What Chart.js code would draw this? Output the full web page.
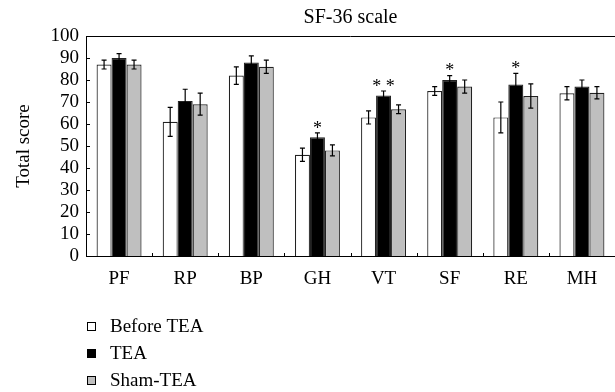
<!DOCTYPE html>
<html>
<head>
<meta charset="utf-8">
<script src="https://cdn.jsdelivr.net/npm/chart.js@4/dist/chart.umd.min.js"></script>
<style>
  html, body { margin: 0; padding: 0; background: #fff; }
  #wrap { width: 615px; height: 392px; position: relative; }
</style>
</head>
<body>
<div id="wrap"><canvas id="chart"></canvas></div>
<script>
const categories = ['PF', 'RP', 'BP', 'GH', 'VT', 'SF', 'RE', 'MH'];
const beforeTea = [87, 61, 82, 46, 63, 75, 63, 74];
const beforeErr = [2, 6.6, 4, 3, 3, 2, 7, 3];
const tea = [90, 70.5, 88, 54, 73, 80, 78, 77];
const teaErr = [2, 5.3, 3, 2, 2, 2, 5, 3];
const shamTea = [87, 69, 86, 48, 66.7, 77, 72.7, 74.2];
const shamErr = [2, 5, 3, 2.5, 2, 3, 5.5, 2.8];
const teaStars = ['', '', '', '*', '* *', '*', '*', ''];
const yTicks = [0, 10, 20, 30, 40, 50, 60, 70, 80, 90, 100];

const serif = '"Liberation Serif", "Times New Roman", serif';

// error bars, stars, inward ticks, top border, title and legend
const extras = {
    id: 'extras',
    afterDatasetsDraw(chart) {
        const ctx = chart.ctx;
        const y = chart.scales.y;
        const area = chart.chartArea;
        ctx.save();
        ctx.strokeStyle = '#000';
        ctx.fillStyle = '#000';
        ctx.lineWidth = 1.2;

        chart.data.datasets.forEach((ds, i) => {
            const meta = chart.getDatasetMeta(i);
            meta.data.forEach((bar, j) => {
                const v = ds.data[j];
                const e = ds.errors[j];
                const top = y.getPixelForValue(v + e);
                const bot = y.getPixelForValue(v - e);
                ctx.beginPath();
                ctx.moveTo(bar.x, top);
                ctx.lineTo(bar.x, bot);
                ctx.moveTo(bar.x - 2.5, top);
                ctx.lineTo(bar.x + 2.5, top);
                ctx.moveTo(bar.x - 2.5, bot);
                ctx.lineTo(bar.x + 2.5, bot);
                ctx.stroke();
                if (ds.stars && ds.stars[j]) {
                    ctx.font = '18px ' + serif;
                    ctx.textAlign = 'center';
                    ctx.textBaseline = 'middle';
                    ctx.fillText(ds.stars[j], bar.x, top - 4);
                }
            });
        });

        // top border
        ctx.lineWidth = 1;
        ctx.beginPath();
        ctx.moveTo(area.left, area.top + 0.5);
        ctx.lineTo(area.right, area.top + 0.5);
        // inward y ticks
        yTicks.forEach(t => {
            const py = Math.round(y.getPixelForValue(t)) + 0.5;
            ctx.moveTo(area.left, py);
            ctx.lineTo(area.left + 4, py);
        });
        // inward x ticks between categories
        const x = chart.scales.x;
        for (let k = 1; k < categories.length; k++) {
            const px = Math.round((x.getPixelForValue(k - 1) + x.getPixelForValue(k)) / 2) + 0.5;
            ctx.moveTo(px, area.bottom);
            ctx.lineTo(px, area.bottom - 3);
        }
        ctx.stroke();

        // title centred over the plot
        ctx.font = '20px ' + serif;
        ctx.textAlign = 'center';
        ctx.textBaseline = 'middle';
        ctx.fillText('SF-36 scale', (area.left + area.right) / 2, 18);

        // vertical legend
        ctx.font = '19px ' + serif;
        ctx.textAlign = 'left';
        chart.data.datasets.forEach((ds, i) => {
            const cy = 327 + i * 27;
            ctx.fillStyle = ds.backgroundColor;
            ctx.fillRect(87.5, cy - 4.5, 8, 8);
            ctx.strokeStyle = '#000';
            ctx.strokeRect(87.5, cy - 4.5, 8, 8);
            ctx.fillStyle = '#000';
            ctx.fillText(ds.label, 110, cy);
        });
        ctx.restore();
    }
};

new Chart(document.getElementById('chart'), {
    type: 'bar',
    data: {
        labels: categories,
        datasets: [
            { label: 'Before TEA', data: beforeTea, errors: beforeErr, backgroundColor: '#ffffff' },
            { label: 'TEA', data: tea, errors: teaErr, stars: teaStars, backgroundColor: '#000000' },
            { label: 'Sham-TEA', data: shamTea, errors: shamErr, backgroundColor: '#bfbfbf' }
        ].map(d => Object.assign(d, {
            borderColor: '#222',
            borderWidth: 1.2,
            categoryPercentage: 0.68,
            barPercentage: 1.0
        }))
    },
    options: {
        responsive: true,
        maintainAspectRatio: false,
        animation: false,
        layout: { padding: { top: 36, right: 0, bottom: 106, left: 0 } },
        plugins: {
            legend: { display: false },
            title: { display: false },
            tooltip: { enabled: false }
        },
        scales: {
            x: {
                grid: { display: false, drawTicks: false },
                border: { color: '#000', width: 1 },
                ticks: { color: '#000', padding: 12, font: { family: serif, size: 19 } },
                afterFit(scale) { scale.height = 30; }
            },
            y: {
                min: 0,
                max: 100,
                grid: { display: false, drawTicks: false },
                border: { color: '#000', width: 1 },
                ticks: { stepSize: 10, autoSkip: false, color: '#000', padding: 7, font: { family: serif, size: 19 } },
                title: {
                    display: true,
                    text: 'Total score',
                    color: '#000',
                    padding: { top: 13, bottom: 0 },
                    font: { family: serif, size: 19 }
                },
                afterFit(scale) { scale.width = 86; }
            }
        }
    },
    plugins: [extras]
});
</script>
</body>
</html>
